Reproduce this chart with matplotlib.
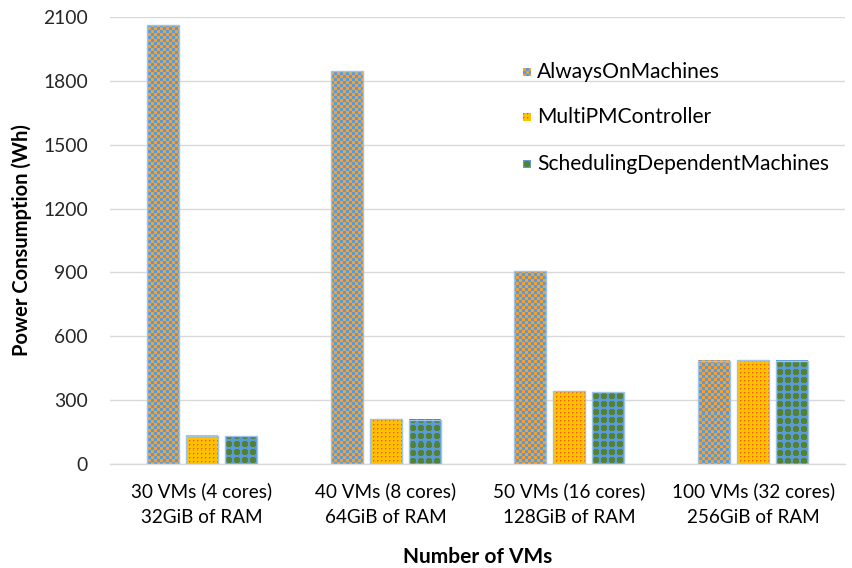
import numpy as np
import matplotlib
matplotlib.use("Agg")
import matplotlib.pyplot as plt

plt.rcParams['font.family'] = ['Lato', 'DejaVu Sans']

categories = ["30 VMs (4 cores)\n32GiB of RAM",
              "40 VMs (8 cores)\n64GiB of RAM",
              "50 VMs (16 cores)\n128GiB of RAM",
              "100 VMs (32 cores)\n256GiB of RAM"]
series_names = ["AlwaysOnMachines", "MultiPMController", "SchedulingDependentMachines"]
always_on = [2062, 1845, 905, 484]
multi_pm = [133, 211, 342, 487]
sched_dep = [131, 209, 338, 484]
yticks = [0, 300, 600, 900, 1200, 1500, 1800, 2100]

ORANGE = np.array([244, 160, 52]) / 255
BLUE = np.array([91, 155, 213]) / 255
GOLD = np.array([255, 192, 0]) / 255
RED = np.array([240, 90, 20]) / 255
LORANGE = np.array([250, 145, 20]) / 255
GREEN = np.array([84, 130, 53]) / 255


def pattern(kind, w, h, x0=0, y0=0):
    ys, xs = np.mgrid[0:h, 0:w]
    xs = xs + x0
    ys = ys + y0
    img = np.zeros((h, w, 3))
    if kind == 0:
        chk = ((xs // 3) + (ys // 3)) % 2 == 0
        img[:] = BLUE
        img[chk] = ORANGE
    elif kind == 1:
        img[:] = GOLD
        img[(xs % 4 == 0) & (ys % 4 == 0)] = RED
        img[(xs % 4 == 1) & (ys % 4 == 0)] = LORANGE
        img[(xs % 4 == 0) & (ys % 4 == 1)] = LORANGE
    else:
        img[:] = BLUE
        dx = np.abs((xs % 8) - 3.5)
        dy = np.abs((ys % 8) - 3.5)
        blob = (dx <= 2.5) & (dy <= 2.5) & (dx + dy <= 4)
        img[blob] = GREEN
    return img


fig = plt.figure(figsize=(8.52, 5.68), dpi=100)
ax = fig.add_axes([110 / 852, 104 / 568, 735 / 852, 447 / 568])

n = len(categories)
x = np.arange(n)
width = 0.174
step = 0.212
ax.set_xlim(-0.5, n - 0.5)
ax.set_ylim(0, 2100)

all_series = [always_on, multi_pm, sched_dep]
for s, vals in enumerate(all_series):
    offs = (s - 1) * step
    bars = ax.bar(x + offs, vals, width, color='none', edgecolor='#9DC3E6',
                  linewidth=1.0, zorder=3, label=series_names[s])
    for b, v in zip(bars, vals):
        bx = b.get_x()
        (px0, py0) = ax.transData.transform((bx, 0))
        (px1, py1) = ax.transData.transform((bx + width, v))
        w = max(int(round(px1 - px0)), 1)
        h = max(int(round(py1 - py0)), 1)
        img = pattern(s, w, h, int(px0), int(568 - py1))
        ax.imshow(img, extent=(bx, bx + width, 0, v), origin='upper',
                  interpolation='nearest', aspect='auto', zorder=2)

ax.set_xlim(-0.5, n - 0.5)
ax.set_ylim(0, 2100)

ax.set_yticks(yticks)
ax.set_yticklabels([str(t) for t in yticks], fontsize=13.9, color='#262626')
ax.set_xticks(x)
ax.set_xticklabels(categories, fontsize=13.6, color='#000000', linespacing=1.65)
ax.tick_params(axis='both', length=0)
ax.tick_params(axis='y', pad=16)
ax.tick_params(axis='x', pad=13)
ax.grid(axis='y', color='#D9D9D9', linewidth=1.0, zorder=0)
ax.set_axisbelow(True)
for side in ['top', 'right', 'left']:
    ax.spines[side].set_visible(False)
ax.spines['bottom'].set_color('#D9D9D9')
ax.spines['bottom'].set_linewidth(1.0)

ax.set_ylabel("Power Consumption (Wh)", fontsize=14.5, fontweight='bold', labelpad=8)
ax.set_xlabel("Number of VMs", fontsize=15, fontweight='bold', labelpad=15)

# legend: small patterned squares with labels
leg_y = [72, 117, 164]
for s, name in enumerate(series_names):
    fx = 523 / 852
    fy = 1 - (leg_y[s] + 4) / 568
    sq = fig.add_axes([fx, fy, 8 / 852, 8 / 568])
    sq.imshow(pattern(s, 8, 8), interpolation='nearest', aspect='auto')
    sq.set_axis_off()
    fig.text(537 / 852, 1 - leg_y[s] / 568, name, fontsize=15.1,
             va='center', ha='left', color='#000000')

fig.savefig("out.png", dpi=100)
